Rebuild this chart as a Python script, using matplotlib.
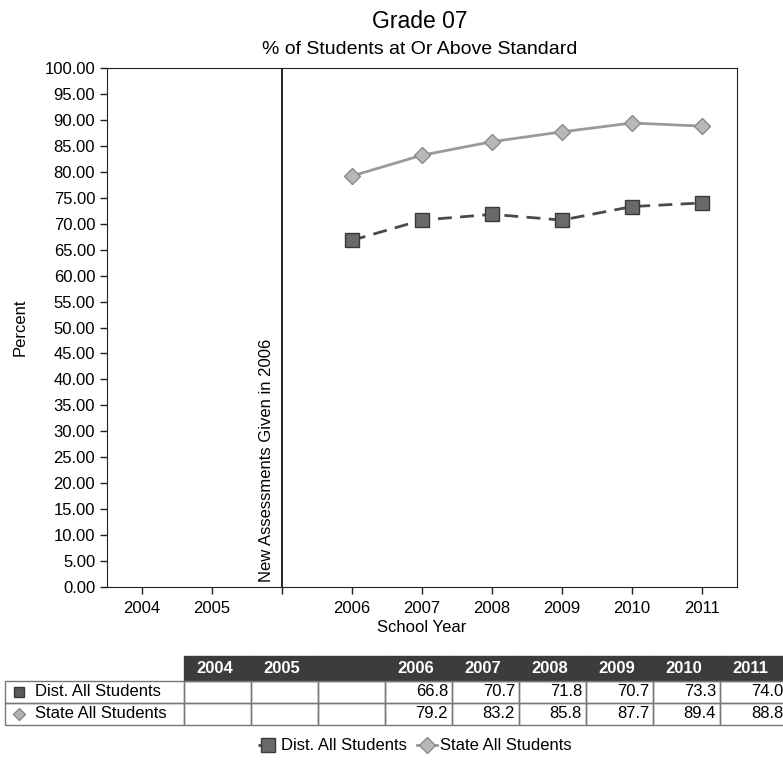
import numpy as np
import matplotlib.pyplot as plt
from matplotlib.patches import Rectangle

plt.rcParams['font.family'] = ['Liberation Sans', 'DejaVu Sans']

# data
categories = ['2004', '2005', '', '2006', '2007', '2008', '2009', '2010', '2011']
dist_vals = [None, None, None, 66.8, 70.7, 71.8, 70.7, 73.3, 74.0]
state_vals = [None, None, None, 79.2, 83.2, 85.8, 87.7, 89.4, 88.8]
series_names = ['Dist. All Students', 'State All Students']
note_text = 'New Assessments Given in 2006'

x = np.arange(len(categories))
dist = np.array([np.nan if v is None else v for v in dist_vals])
state = np.array([np.nan if v is None else v for v in state_vals])

W, H = 783, 763
fs = 12
fig = plt.figure(figsize=(W / 100, H / 100), dpi=100)
ax = fig.add_axes([107 / W, 1 - 587 / H, 630 / W, 519 / H])

dist_style = dict(color='#4a4a4a', lw=2, dashes=(5, 3), marker='s', ms=10,
                  mfc='#6a6a6a', mec='#3a3a3a')
state_style = dict(color='#9a9a9a', lw=2, marker='D', ms=8,
                   mfc='#b8b8b8', mec='#8a8a8a')
h1, = ax.plot(x, dist, label=series_names[0], **dist_style)
h2, = ax.plot(x, state, label=series_names[1], **state_style)

ax.set_xlim(-0.5, len(categories) - 0.5)
ax.set_ylim(0, 100)
ax.set_yticks(np.arange(0, 101, 5))
ax.set_yticklabels([f'{v:.2f}' for v in np.arange(0, 101, 5)], fontsize=fs)
ax.set_xticks(x)
ax.set_xticklabels(categories, fontsize=fs)
ax.tick_params(length=5, width=1, color='#222222')
ax.tick_params(axis='x', pad=5)
for s in ax.spines.values():
    s.set_color('#222222')

# the new assessment marker
ax.axvline(2, color='black', lw=1.2)
ax.text(1.88, 1, note_text, rotation=90, ha='right', va='bottom', fontsize=fs)

ax.set_xlabel('School Year', fontsize=fs, labelpad=3)
ax.set_ylabel('Percent', fontsize=fs, labelpad=12)

fig.text(420 / W, 1 - 21 / H, 'Grade 07', ha='center', va='center', fontsize=16.5)
fig.text(420 / W, 1 - 50 / H, '% of Students at Or Above Standard',
         ha='center', va='center', fontsize=14)

# data table under the chart, drawn in pixel units
tab = fig.add_axes([0, 0, 1, 1])
tab.set_xlim(0, W)
tab.set_ylim(H, 0)
tab.axis('off')

label_x0, label_w = 5, 179
col_w = 67
head_y0, head_h = 656, 25
row_h = 22
grid = '#777777'

for i, c in enumerate(categories):
    cx = label_x0 + label_w + i * col_w
    tab.add_patch(Rectangle((cx, head_y0), col_w, head_h, facecolor='#3c3c3c',
                            edgecolor='#3c3c3c'))
    tab.text(cx + 12, head_y0 + head_h / 2, c, color='white', ha='left',
             va='center', fontsize=fs, fontweight='bold')

rows = [dist_vals, state_vals]
icons = [dict(marker='s', ms=7, color='#5a5a5a', mec='#3a3a3a'),
         dict(marker='D', ms=6, color='#b0b0b0', mec='#8a8a8a')]
for r, (name, vals) in enumerate(zip(series_names, rows)):
    ry = head_y0 + head_h + r * row_h
    tab.add_patch(Rectangle((label_x0, ry), label_w, row_h, facecolor='none',
                            edgecolor=grid, lw=1))
    tab.plot(label_x0 + 14, ry + row_h / 2, **icons[r])
    tab.text(label_x0 + 30, ry + row_h / 2, name, ha='left', va='center',
             fontsize=fs)
    for i, v in enumerate(vals):
        cx = label_x0 + label_w + i * col_w
        tab.add_patch(Rectangle((cx, ry), col_w, row_h, facecolor='none',
                                edgecolor=grid, lw=1))
        if v is not None:
            tab.text(cx + col_w - 4, ry + row_h / 2, f'{v:.1f}', ha='right',
                     va='center', fontsize=fs)

fig.legend(handles=[h1, h2], loc='center', bbox_to_anchor=(415 / W, 1 - 746 / H),
           ncol=2, frameon=False, fontsize=fs, handlelength=1.2,
           handletextpad=0.2, columnspacing=0.6)

fig.savefig('out.png', dpi=100)
